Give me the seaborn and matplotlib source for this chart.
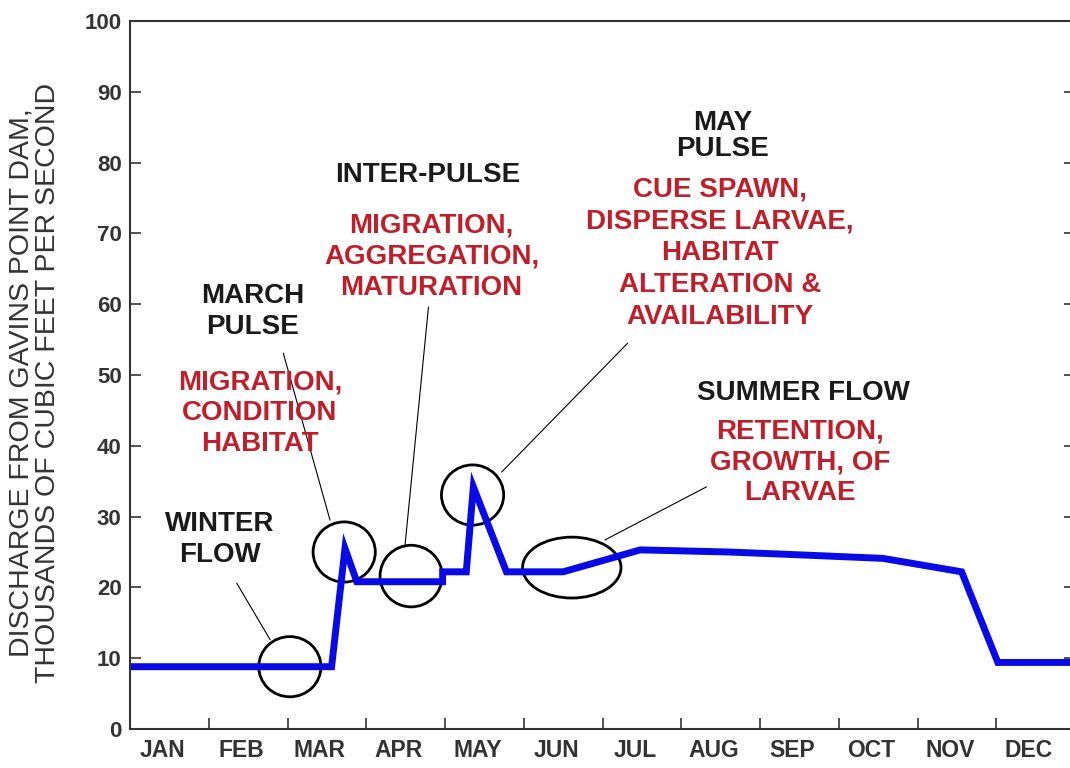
import matplotlib
matplotlib.use('Agg')
import matplotlib.pyplot as plt
import matplotlib.transforms as mtransforms
from matplotlib.patches import Ellipse
import numpy as np
import pandas as pd
import seaborn as sns

# Data: Gavins Point Dam discharge (thousand cfs) across the year
month_pos = [0.0, 2.56, 2.73, 2.88, 3.97, 3.97, 4.27, 4.36, 4.78, 5.50,
             6.48, 7.60, 8.50, 9.56, 10.56, 11.02, 12.0]
discharge = [8.8, 8.8, 25.5, 20.8, 20.8, 22.2, 22.2, 34.2, 22.2, 22.2,
             25.3, 25.0, 24.6, 24.1, 22.2, 9.4, 9.4]
months = ['JAN', 'FEB', 'MAR', 'APR', 'MAY', 'JUN',
          'JUL', 'AUG', 'SEP', 'OCT', 'NOV', 'DEC']
y_ticks = [0, 10, 20, 30, 40, 50, 60, 70, 80, 90, 100]

df = pd.DataFrame({'month': month_pos, 'discharge': discharge})

sns.set_theme(style='ticks')
plt.rcParams['font.family'] = ['Liberation Sans', 'DejaVu Sans']

fig = plt.figure(figsize=(10.7, 7.68), dpi=100)
ax = fig.add_axes([130 / 1070, 39 / 768, 945 / 1070, 708 / 768])

sns.lineplot(data=df, x='month', y='discharge', sort=False, estimator=None,
             color='#0a0ae6', linewidth=5, ax=ax, solid_joinstyle='miter')

ax.set_xlim(0, 12)
ax.set_ylim(0, 100)
ax.set_xlabel('')
ax.set_ylabel('')

# axes frame and ticks
for s in ax.spines.values():
    s.set_color('#333333')
    s.set_linewidth(1.5)
ax.set_xticks(np.arange(1, 12))
ax.set_xticklabels([])
ax.set_xticks(np.arange(12) + 0.5, minor=True)
ax.set_xticklabels(months, minor=True, fontsize=16.5, fontweight='bold', color='#333333')
ax.tick_params(axis='x', which='major', direction='in', length=8, width=1.2, color='#333333')
ax.tick_params(axis='x', which='minor', length=0, pad=7)
offset = mtransforms.ScaledTranslation(-7 / 100, 0, fig.dpi_scale_trans)
for lbl in ax.xaxis.get_minorticklabels():
    lbl.set_transform(lbl.get_transform() + offset)

ax.set_yticks(y_ticks)
ax.set_yticklabels([str(v) for v in y_ticks], fontsize=16, fontweight='bold', color='#333333')
ax.tick_params(axis='y', direction='in', length=8, width=1.2, color='#333333',
               right=True, pad=6)

# circles around the flow events
circ_kw = dict(fill=False, edgecolor='black', linewidth=2)
ax.add_patch(Ellipse((2.03, 8.8), 0.79, 8.5, **circ_kw))
ax.add_patch(Ellipse((2.72, 25.0), 0.79, 8.5, **circ_kw))
ax.add_patch(Ellipse((3.57, 21.6), 0.79, 8.7, **circ_kw))
ax.add_patch(Ellipse((4.35, 33.05), 0.79, 8.5, **circ_kw))
ax.add_patch(Ellipse((5.61, 22.8), 1.25, 8.6, **circ_kw))

# leader lines
line_kw = dict(color='black', linewidth=0.8)
ax.plot([1.355, 1.78], [20.6, 12.6], **line_kw)
ax.plot([1.947, 2.54], [53.06, 29.5], **line_kw)
ax.plot([3.79, 3.49], [59.6, 25.7], **line_kw)
ax.plot([4.72, 6.32], [36.3, 54.5], **line_kw)
ax.plot([6.03, 7.32], [26.7, 34.2], **line_kw)

black = '#1a1a1a'
red = '#bf1e2b'
txt_kw = dict(ha='center', va='center', fontsize=20, fontweight='bold',
              linespacing=1.25, multialignment='center')

ax.text(1.14, 26.7, 'WINTER\nFLOW', color=black, **txt_kw)
ax.text(1.56, 58.9, 'MARCH\nPULSE', color=black, **txt_kw)
ax.text(1.65, 44.6, 'MIGRATION,\nCONDITION\nHABITAT', color=red, **txt_kw)
ax.text(3.78, 78.2, 'INTER-PULSE', color=black, **txt_kw)
ax.text(3.83, 66.7, 'MIGRATION,\nAGGREGATION,\nMATURATION', color=red, **txt_kw)
ax.text(7.53, 83.7, 'MAY\nPULSE', color=black, **dict(txt_kw, linespacing=1.0))
ax.text(7.49, 67.2, 'CUE SPAWN,\nDISPERSE LARVAE,\nHABITAT\nALTERATION &\nAVAILABILITY',
        color=red, **dict(txt_kw, linespacing=1.3))
ax.text(8.55, 47.4, 'SUMMER FLOW', color=black, **txt_kw)
ax.text(8.51, 37.7, 'RETENTION,\nGROWTH, OF\nLARVAE', color=red, **dict(txt_kw, linespacing=1.25))

fig.text(35 / 1070, 1 - 383 / 768,
         'DISCHARGE FROM GAVINS POINT DAM,\nTHOUSANDS OF CUBIC FEET PER SECOND',
         rotation=90, ha='center', va='center', fontsize=20.5, color='#333333',
         multialignment='center', linespacing=1.0)

fig.savefig('out.png', dpi=100, facecolor='white')
